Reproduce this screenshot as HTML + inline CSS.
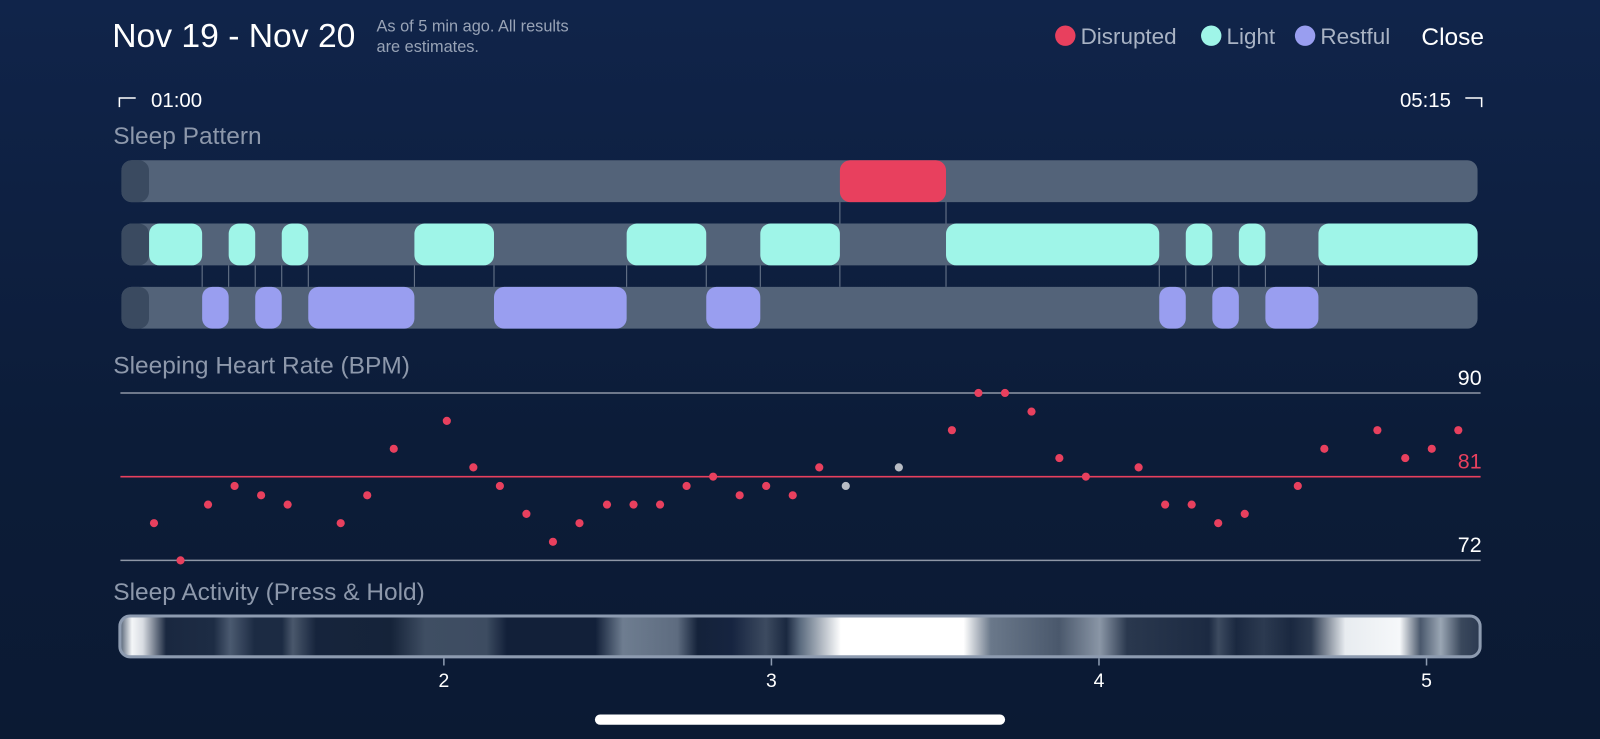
<!DOCTYPE html>
<html><head><meta charset="utf-8"><style>
body{margin:0;width:1600px;height:739px;overflow:hidden;background:linear-gradient(#10244a,#0c1c38 60%,#0b1a33);font-family:"Liberation Sans",sans-serif;}
svg{display:block}
</style></head><body>
<svg width="1600" height="739" viewBox="0 0 1568 724" preserveAspectRatio="none" xmlns="http://www.w3.org/2000/svg" id="svg">
<defs>
<linearGradient id="act" x1="116" x2="1452" gradientUnits="userSpaceOnUse">
<stop offset="0" stop-color="#3a4a60"/><stop offset="0.01" stop-color="#f4f6f8"/><stop offset="0.018" stop-color="#d8dce2"/><stop offset="0.035" stop-color="#1a2840"/>
<stop offset="0.07" stop-color="#1d2c44"/><stop offset="0.082" stop-color="#4b5a70"/><stop offset="0.1" stop-color="#1c2b43"/>
<stop offset="0.12" stop-color="#1c2b43"/><stop offset="0.128" stop-color="#4a586c"/><stop offset="0.145" stop-color="#16243c"/>
<stop offset="0.2" stop-color="#152339"/><stop offset="0.225" stop-color="#3f4e63"/><stop offset="0.27" stop-color="#3d4c61"/><stop offset="0.285" stop-color="#122039"/>
<stop offset="0.35" stop-color="#122039"/><stop offset="0.37" stop-color="#6e7d90"/><stop offset="0.41" stop-color="#5e6c80"/><stop offset="0.425" stop-color="#14223a"/>
<stop offset="0.45" stop-color="#162440"/><stop offset="0.475" stop-color="#3d4b60"/><stop offset="0.49" stop-color="#1a2840"/>
<stop offset="0.5" stop-color="#5a6a7e"/><stop offset="0.53" stop-color="#ffffff"/><stop offset="0.62" stop-color="#ffffff"/><stop offset="0.64" stop-color="#6a788a"/>
<stop offset="0.69" stop-color="#4a586c"/><stop offset="0.72" stop-color="#8a96a6"/><stop offset="0.74" stop-color="#2a384e"/>
<stop offset="0.8" stop-color="#1c2a42"/><stop offset="0.807" stop-color="#3d4b60"/><stop offset="0.82" stop-color="#1a2840"/>
<stop offset="0.84" stop-color="#2c3a50"/><stop offset="0.86" stop-color="#1a2840"/><stop offset="0.875" stop-color="#2c3a50"/>
<stop offset="0.9" stop-color="#e8ecf0"/><stop offset="0.94" stop-color="#f6f8fa"/><stop offset="0.955" stop-color="#4a586c"/><stop offset="0.97" stop-color="#9aa6b4"/><stop offset="0.985" stop-color="#3a485c"/><stop offset="1" stop-color="#2a3850"/>
</linearGradient>
</defs>
<text x="110" y="46" font-size="33" fill="#fff">Nov 19 - Nov 20</text>
<text x="369" y="31" font-size="16" fill="#98a3b6">As of 5 min ago. All results</text>
<text x="369" y="51" font-size="16" fill="#98a3b6">are estimates.</text>
<g font-size="22" fill="#a9b3c4">
<circle cx="1044" cy="35" r="10" fill="#e8405e"/>
<text x="1059" y="43">Disrupted</text>
<circle cx="1187" cy="35" r="10" fill="#9ff5e8"/>
<text x="1202" y="43">Light</text>
<circle cx="1279" cy="35" r="10" fill="#999ef0"/>
<text x="1294" y="43">Restful</text>
</g>
<text x="1393" y="44" font-size="24" fill="#fff">Close</text>
<path d="M117 105 V96 H133" stroke="#fff" stroke-width="1.5" fill="none"/>
<text x="148" y="105" font-size="20" fill="#fff">01:00</text>
<text x="1422" y="105" font-size="20" fill="#fff" text-anchor="end">05:15</text>
<path d="M1436 96 H1452 V105" stroke="#fff" stroke-width="1.5" fill="none"/>
<text x="111" y="141" font-size="24" fill="#8d98ab">Sleep Pattern</text>
<text x="111" y="366" font-size="24" fill="#8d98ab">Sleeping Heart Rate (BPM)</text>
<text x="111" y="588" font-size="24" fill="#8d98ab">Sleep Activity (Press &amp; Hold)</text>
<g id="pattern"></g>
<g id="hr"></g>
<rect x="117.5" y="603.5" width="1333" height="40" rx="10" fill="url(#act)" stroke="#8d9bb0" stroke-width="3"/>
<g id="xaxis"></g>
<rect x="583" y="700" width="402" height="10" rx="5" fill="#fff"/>
</svg>
<script>
const hourTicks=[2,3,4,5];
const disrupted=[[3.209,3.533]];
const light=[[1.100,1.262],[1.343,1.424],[1.505,1.586],[1.910,2.153],[2.558,2.801],[2.966,3.209],[3.533,4.184],[4.265,4.346],[4.427,4.508],[4.670,5.156]];
const restful=[[1.262,1.343],[1.424,1.505],[1.586,1.910],[2.153,2.558],[2.801,2.966],[4.184,4.265],[4.346,4.427],[4.508,4.670]];
const hrTimes=[1.115,1.196,1.280,1.361,1.442,1.523,1.685,1.766,1.847,2.009,2.090,2.171,2.252,2.333,2.414,2.498,2.579,2.660,2.741,2.822,2.903,2.984,3.065,3.146,3.227,3.389,3.551,3.632,3.713,3.794,3.879,3.960,4.121,4.202,4.283,4.364,4.445,4.607,4.688,4.850,4.935,5.016,5.097];
const hrValues=[76,72,78,80,79,78,76,79,84,87,82,80,77,74,76,78,78,78,80,81,79,80,79,82,80,82,86,90,90,88,83,81,82,78,78,76,77,80,84,86,83,84,86];
const hrGray=[24,25];
const hrMax=90,hrMin=72,hrAvg=81;
const NS="http://www.w3.org/2000/svg";
const X=h=>435+(h-2)*321;
const Y=v=>385+(hrMax-v)*(549-385)/(hrMax-hrMin);
function mk(tag,attrs,parent){const e=document.createElementNS(NS,tag);for(const k in attrs)e.setAttribute(k,attrs[k]);parent.appendChild(e);return e;}
const pat=document.getElementById('pattern');
const rows=[157,219,281];
const conn=mk('g',{stroke:'#6d7a8e','stroke-width':1},pat);


disrupted.forEach(s=>s.forEach(t=>mk('line',{x1:X(t),x2:X(t),y1:198,y2:219},conn)));
light.forEach(s=>s.forEach(t=>{if(t>1.11&&t<5.1)mk('line',{x1:X(t),x2:X(t),y1:260,y2:281},conn);}));
const names=['disrupted','light','restful'];
rows.forEach((y,i)=>{
 const r=mk('rect',{x:119,y:y,width:1329,height:41,rx:10,fill:'#536379'},pat);
 
 
 const c=mk('rect',{x:119,y:y,width:27,height:41,rx:10,fill:'#3a4a60'},pat);
 
 
});
[[disrupted,'#e8405e',157,'disrupted-segment'],[light,'#9ff5e8',219,'light-segment'],[restful,'#999ef0',281,'restful-segment']].forEach(([arr,col,y,nm])=>{
 arr.forEach(s=>{const r=mk('rect',{x:X(s[0]),y:y,width:X(s[1])-X(s[0]),height:41,rx:10,fill:col},pat);
 
 });
});
const hr=document.getElementById('hr');
[[hrMax,'#8f97a6','#fff','hr-max'],[hrAvg,'#e8405e','#e8405e','hr-average'],[hrMin,'#8f97a6','#fff','hr-min']].forEach(([v,lc,tc,nm])=>{
 const l=mk('line',{x1:118,x2:1451,y1:Y(v),y2:Y(v),stroke:lc,'stroke-width':1.5},hr);
 
 
 const t=mk('text',{x:1452,y:Y(v)-8,'font-size':21,fill:tc,'text-anchor':'end'},hr);t.textContent=v;
 
 
});
hrTimes.forEach((t,i)=>{const c=mk('circle',{cx:X(t),cy:Y(hrValues[i]),r:4,fill:hrGray.includes(i)?'#b8bcc4':'#e8405e'},hr);
 
 });
const xa=document.getElementById('xaxis');
hourTicks.forEach(h=>{const l=mk('line',{x1:X(h),x2:X(h),y1:645,y2:652,stroke:'#8d9bb0','stroke-width':1.5},xa);
 
 
 const t=mk('text',{x:X(h),y:673,'font-size':19,fill:'#fff','text-anchor':'middle'},xa);t.textContent=h;
 
 });
</script>
</body></html>
